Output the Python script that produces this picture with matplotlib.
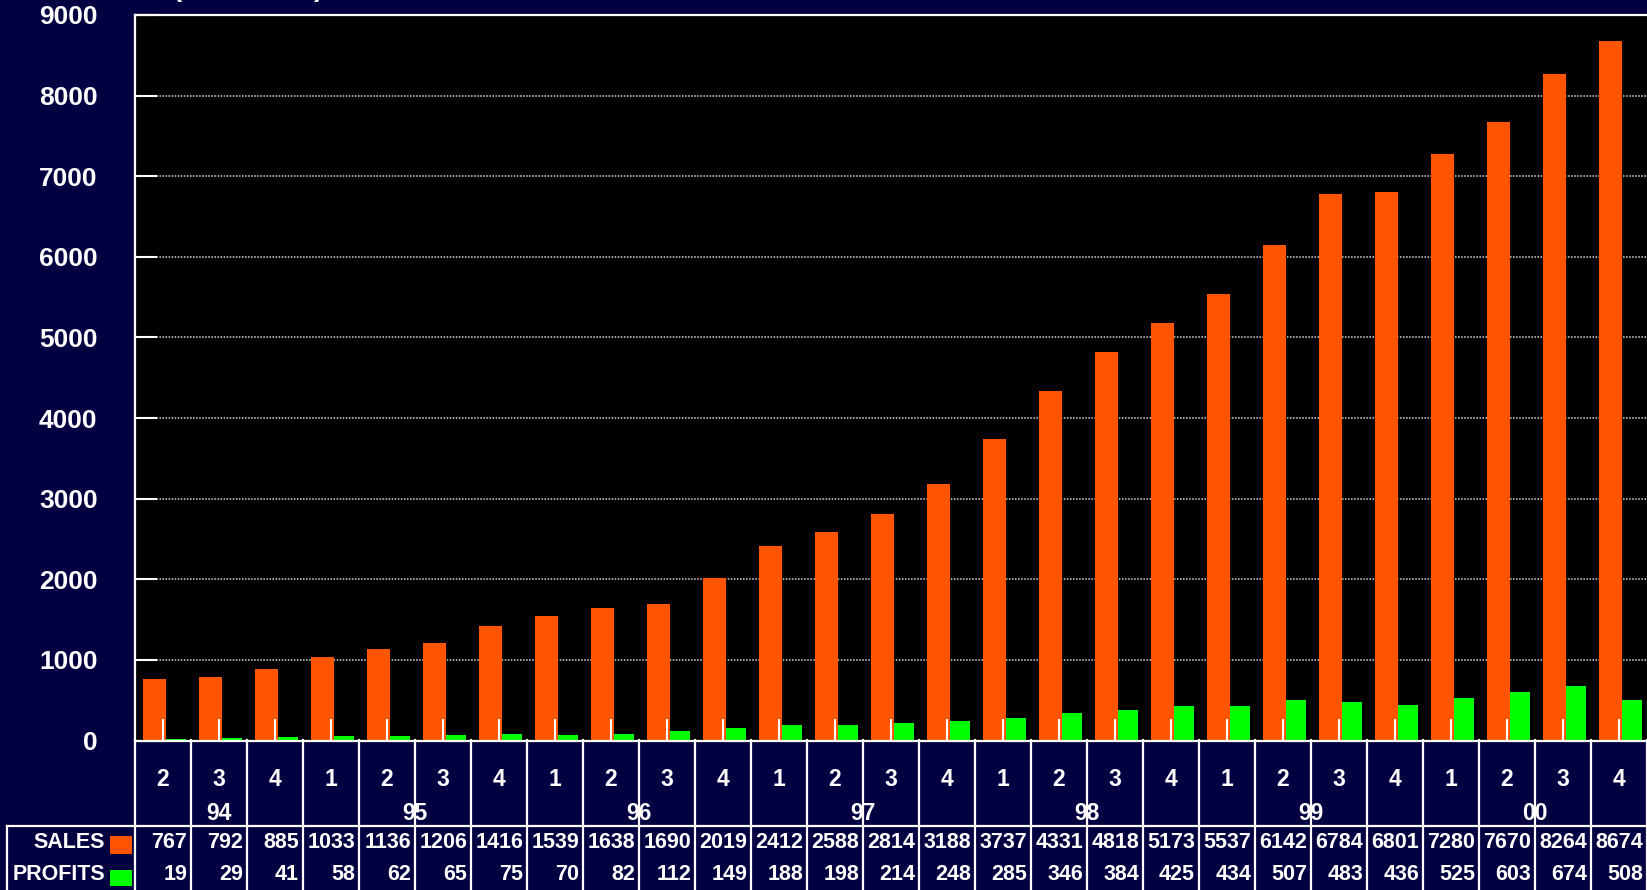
import numpy as np
import matplotlib
matplotlib.use("Agg")
from matplotlib import pyplot as plt
from matplotlib import transforms
from matplotlib.lines import Line2D
from matplotlib.patches import Rectangle

plt.rcParams['font.family'] = ['Liberation Sans', 'DejaVu Sans']
plt.rcParams['font.weight'] = 'bold'

# ================================================
# DATA
# ================================================
years = ['94', '95', '96', '97', '98', '99', '00']
quarters = [2, 3, 4] + [1, 2, 3, 4] * 6
year_sizes = [3, 4, 4, 4, 4, 4, 4]
sales = [767, 792, 885, 1033, 1136, 1206, 1416, 1539, 1638, 1690, 2019, 2412, 2588, 2814,
         3188, 3737, 4331, 4818, 5173, 5537, 6142, 6784, 6801, 7280, 7670, 8264, 8674]
profits = [19, 29, 41, 58, 62, 65, 75, 70, 82, 112, 149, 188, 198, 214,
           248, 285, 346, 384, 425, 434, 507, 483, 436, 525, 603, 674, 508]
yticks = np.arange(0, 9001, 1000)

BG = '#020040'
ORANGE = '#ff5500'
GREEN = '#00ff00'
W, H = 1647, 890

fig = plt.figure(figsize=(W / 100, H / 100), dpi=100, facecolor=BG)
ax = fig.add_axes([135 / W, (H - 740.5) / H, 1 - 135 / W, (740.5 - 15) / H])
ax.set_facecolor('black')

n = len(sales)
x = np.arange(n)
ax.bar(x - 0.15, sales, width=0.41, color=ORANGE, zorder=2)
ax.bar(x + 0.23, profits, width=0.36, color=GREEN, zorder=2)

ax.set_xlim(-0.5, n - 0.5)
ax.set_ylim(0, 9000)
ax.set_yticks(yticks)
# dotted gridlines behind the bars, ticks stay on top
for v in yticks[1:]:
    ax.axhline(v, color='#d8d8d8', linestyle=(0, (1, 1)), linewidth=1.1, zorder=1)
ax.set_axisbelow(False)

ax.set_xticks(x)
ax.set_xticklabels([])
ax.tick_params(axis='x', direction='in', length=16, width=1.5, color='white')
ax.tick_params(axis='y', direction='in', length=16, width=1.5, color='white',
               labelcolor='white', labelsize=19, pad=27)
for lbl in ax.get_yticklabels():
    lbl.set_fontweight('bold')
for side in ['left', 'top', 'bottom']:
    ax.spines[side].set_color('white')
    ax.spines[side].set_linewidth(1.6)
ax.spines['right'].set_visible(False)

# cropped title, only the bottom of the parentheses shows
fig.text(173 / W, 1.004, '(MILLIONS)', color='white', fontsize=20, fontweight='bold',
         ha='left', va='baseline')

# ================================================
# TABLE BELOW THE AXIS
# ================================================
blend = transforms.blended_transform_factory(ax.transData, fig.transFigure)

def fy(py):
    return (H - py) / H

# column separators
for b in np.arange(-0.5, n, 1.0):
    fig.add_artist(Line2D([b, b], [fy(740), fy(890)], transform=blend, color='white', lw=1.6))
# table box
fig.add_artist(Line2D([7 / W, 1], [fy(826), fy(826)], transform=fig.transFigure, color='white', lw=1.6))
fig.add_artist(Line2D([7 / W, 7 / W], [fy(826), fy(890)], transform=fig.transFigure, color='white', lw=1.6))

for i, q in enumerate(quarters):
    fig.text(i, fy(780), str(q), transform=blend, color='white', fontsize=16.5,
             fontweight='bold', ha='center', va='center')
    fig.text(i + 0.5 - 0.07, fy(843), str(sales[i]), transform=blend, color='white',
             fontsize=15.5, fontweight='bold', ha='right', va='center')
    fig.text(i + 0.5 - 0.07, fy(875), str(profits[i]), transform=blend, color='white',
             fontsize=15.5, fontweight='bold', ha='right', va='center')

start = 0
for yr, size in zip(years, year_sizes):
    fig.text(start + (size - 1) / 2, fy(813), yr, transform=blend, color='white', fontsize=16.5,
             fontweight='bold', ha='center', va='center')
    start += size

fig.text(105 / W, fy(843), 'SALES', color='white', fontsize=15.5, fontweight='bold',
         ha='right', va='center')
fig.text(105 / W, fy(875), 'PROFITS', color='white', fontsize=15.5, fontweight='bold',
         ha='right', va='center')
fig.add_artist(Rectangle((110 / W, fy(854)), 22 / W, 18 / H, transform=fig.transFigure,
                         facecolor=ORANGE, edgecolor='none'))
fig.add_artist(Rectangle((110 / W, fy(886)), 22 / W, 16 / H, transform=fig.transFigure,
                         facecolor=GREEN, edgecolor='none'))

fig.savefig('out.png', dpi=100, facecolor=BG)
